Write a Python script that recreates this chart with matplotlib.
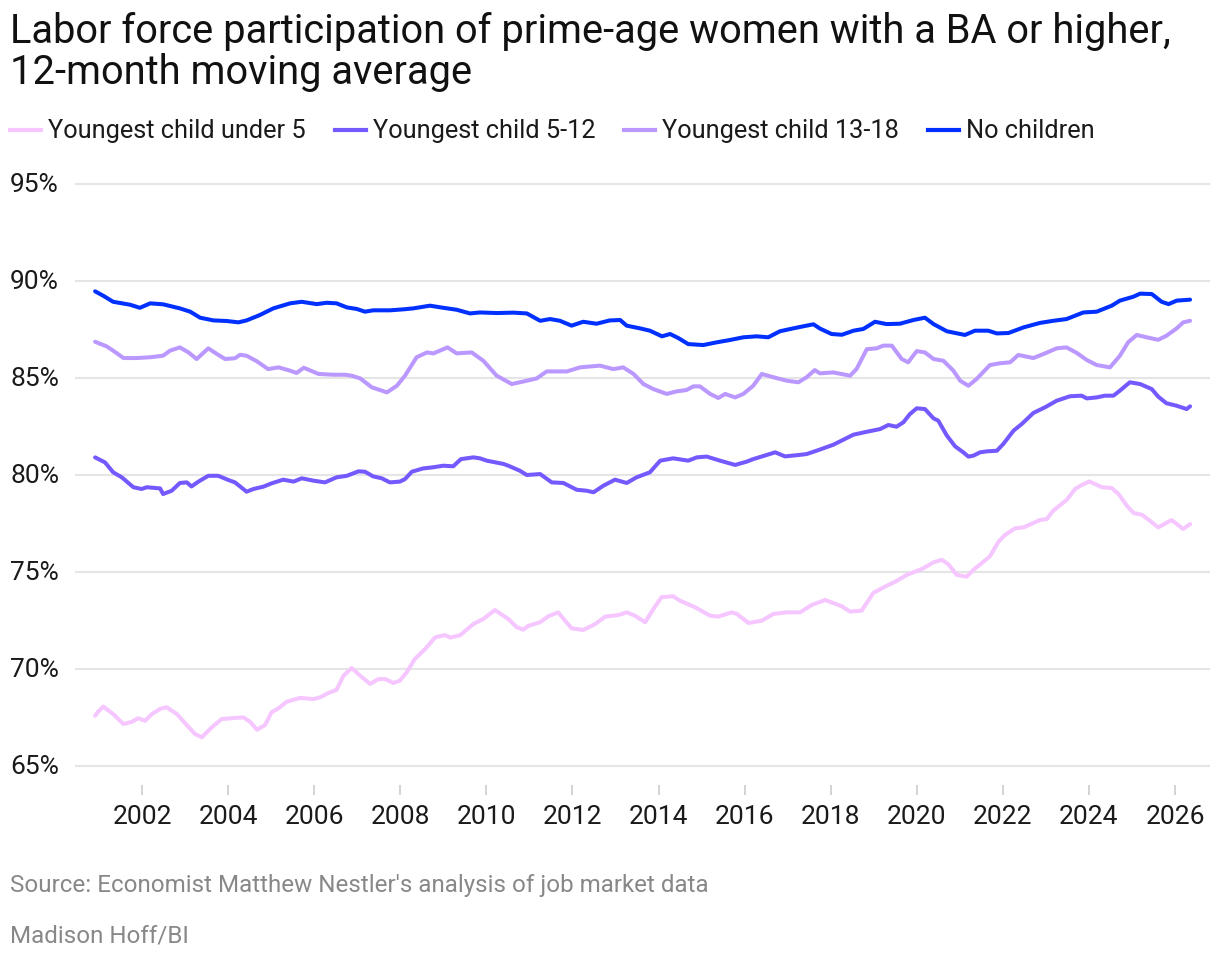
import matplotlib
matplotlib.use('Agg')
import matplotlib.pyplot as plt
from matplotlib.lines import Line2D
from matplotlib.transforms import blended_transform_factory

plt.rcParams['font.family'] = ['Roboto', 'DejaVu Sans']

# ---------------- data ----------------
series_names = ["Youngest child under 5", "Youngest child 5-12",
                "Youngest child 13-18", "No children"]

under5_x = [2000.91, 2000.98, 2001.10, 2001.33, 2001.57, 2001.76, 2001.91, 2002.07, 2002.23, 2002.42,
            2002.57, 2002.81, 2003.04, 2003.23, 2003.39, 2003.62, 2003.85, 2004.08, 2004.35, 2004.51,
            2004.67, 2004.86, 2005.01, 2005.17, 2005.36, 2005.67, 2005.98, 2006.14, 2006.33, 2006.52,
            2006.68, 2006.87, 2007.07, 2007.30, 2007.49, 2007.65, 2007.84, 2007.99, 2008.15, 2008.34,
            2008.58, 2008.81, 2009.04, 2009.16, 2009.39, 2009.70, 2009.93, 2010.20, 2010.51, 2010.71,
            2010.86, 2010.98, 2011.25, 2011.44, 2011.67, 2011.83, 2011.98, 2012.25, 2012.53, 2012.76,
            2013.07, 2013.26, 2013.45, 2013.69, 2013.88, 2014.07, 2014.34, 2014.50, 2014.85, 2015.20,
            2015.39, 2015.70, 2015.82, 2016.09, 2016.40, 2016.67, 2016.98, 2017.29, 2017.56, 2017.87,
            2018.26, 2018.45, 2018.72, 2018.99, 2019.30, 2019.50, 2019.77, 2020.15, 2020.39, 2020.58,
            2020.73, 2020.93, 2021.16, 2021.32, 2021.55, 2021.70, 2021.90, 2022.05, 2022.28, 2022.48,
            2022.71, 2022.86, 2023.02, 2023.17, 2023.48, 2023.68, 2023.83, 2024.01, 2024.30, 2024.53,
            2024.69, 2024.88, 2025.04, 2025.23, 2025.42, 2025.61, 2025.92, 2026.19, 2026.35]
under5_y = [67.59, 67.80, 68.06, 67.68, 67.16, 67.28, 67.46, 67.33, 67.68, 67.94,
            68.03, 67.68, 67.11, 66.65, 66.48, 66.99, 67.42, 67.46, 67.51, 67.28,
            66.87, 67.11, 67.77, 67.97, 68.31, 68.51, 68.45, 68.54, 68.76, 68.93,
            69.65, 70.05, 69.65, 69.23, 69.48, 69.48, 69.28, 69.40, 69.83, 70.52,
            71.03, 71.63, 71.75, 71.62, 71.74, 72.32, 72.58, 73.04, 72.58, 72.15,
            72.03, 72.23, 72.41, 72.72, 72.92, 72.49, 72.10, 72.01, 72.32, 72.70,
            72.78, 72.92, 72.75, 72.41, 73.09, 73.70, 73.75, 73.52, 73.18, 72.75,
            72.70, 72.92, 72.84, 72.37, 72.49, 72.84, 72.92, 72.92, 73.30, 73.56,
            73.23, 72.96, 73.01, 73.92, 74.29, 74.50, 74.85, 75.19, 75.50, 75.63,
            75.41, 74.85, 74.76, 75.12, 75.53, 75.81, 76.56, 76.91, 77.25, 77.30,
            77.53, 77.68, 77.73, 78.16, 78.71, 79.28, 79.48, 79.67, 79.37, 79.33,
            79.02, 78.42, 78.04, 77.95, 77.64, 77.30, 77.68, 77.22, 77.47]

age5_12_x = [2000.91, 2001.14, 2001.33, 2001.53, 2001.80, 2001.99, 2002.11, 2002.42, 2002.49, 2002.69,
             2002.88, 2003.04, 2003.15, 2003.31, 2003.54, 2003.77, 2004.01, 2004.16, 2004.43, 2004.59,
             2004.82, 2005.01, 2005.28, 2005.52, 2005.71, 2005.98, 2006.25, 2006.52, 2006.76, 2007.03,
             2007.18, 2007.37, 2007.57, 2007.76, 2007.99, 2008.11, 2008.27, 2008.53, 2008.77, 2009.00,
             2009.23, 2009.41, 2009.70, 2009.85, 2010.01, 2010.40, 2010.51, 2010.78, 2010.94, 2011.25,
             2011.52, 2011.79, 2012.10, 2012.33, 2012.49, 2012.72, 2012.99, 2013.26, 2013.49, 2013.80,
             2014.04, 2014.34, 2014.69, 2014.89, 2015.12, 2015.43, 2015.78, 2016.05, 2016.20, 2016.51,
             2016.71, 2016.94, 2017.25, 2017.44, 2017.67, 2018.06, 2018.53, 2018.84, 2019.15, 2019.34,
             2019.53, 2019.69, 2019.84, 2020.00, 2020.19, 2020.39, 2020.50, 2020.70, 2020.89, 2021.08,
             2021.20, 2021.32, 2021.47, 2021.63, 2021.86, 2022.01, 2022.25, 2022.44, 2022.71, 2022.98,
             2023.25, 2023.56, 2023.83, 2023.95, 2024.18, 2024.37, 2024.57, 2024.72, 2024.95, 2025.19,
             2025.46, 2025.61, 2025.80, 2026.04, 2026.27, 2026.35]
age5_12_y = [80.91, 80.65, 80.14, 79.88, 79.37, 79.28, 79.37, 79.31, 79.02, 79.19,
             79.59, 79.62, 79.41, 79.66, 79.96, 79.96, 79.74, 79.62, 79.14, 79.28,
             79.40, 79.57, 79.76, 79.66, 79.83, 79.71, 79.62, 79.88, 79.96, 80.19,
             80.17, 79.93, 79.83, 79.62, 79.66, 79.79, 80.17, 80.34, 80.40, 80.48,
             80.45, 80.82, 80.91, 80.86, 80.74, 80.57, 80.48, 80.22, 80.00, 80.05,
             79.62, 79.59, 79.24, 79.19, 79.11, 79.45, 79.76, 79.59, 79.88, 80.14,
             80.74, 80.86, 80.74, 80.91, 80.95, 80.74, 80.52, 80.69, 80.82, 81.03,
             81.17, 80.96, 81.03, 81.08, 81.25, 81.56, 82.08, 82.23, 82.37, 82.58,
             82.49, 82.72, 83.14, 83.44, 83.40, 82.92, 82.80, 82.03, 81.48, 81.17,
             80.95, 81.00, 81.17, 81.22, 81.25, 81.60, 82.29, 82.63, 83.20, 83.49,
             83.83, 84.06, 84.09, 83.95, 84.00, 84.09, 84.09, 84.35, 84.78, 84.69,
             84.43, 84.04, 83.70, 83.57, 83.40, 83.54]

age13_18_x = [2000.91, 2001.18, 2001.33, 2001.57, 2001.88, 2002.19, 2002.49, 2002.65, 2002.88, 2003.08,
              2003.27, 2003.54, 2003.74, 2003.93, 2004.16, 2004.28, 2004.43, 2004.67, 2004.93, 2005.17,
              2005.44, 2005.59, 2005.76, 2006.10, 2006.44, 2006.72, 2006.87, 2007.07, 2007.34, 2007.69,
              2007.92, 2008.11, 2008.38, 2008.62, 2008.77, 2009.10, 2009.31, 2009.66, 2009.93, 2010.24,
              2010.59, 2010.94, 2011.17, 2011.40, 2011.87, 2012.18, 2012.64, 2012.95, 2013.18, 2013.42,
              2013.65, 2013.88, 2014.19, 2014.42, 2014.65, 2014.81, 2014.96, 2015.20, 2015.39, 2015.55,
              2015.78, 2015.97, 2016.20, 2016.40, 2016.67, 2016.98, 2017.25, 2017.44, 2017.63, 2017.75,
              2018.06, 2018.45, 2018.60, 2018.84, 2019.07, 2019.22, 2019.42, 2019.65, 2019.80, 2020.00,
              2020.19, 2020.39, 2020.62, 2020.85, 2021.01, 2021.20, 2021.39, 2021.70, 2021.93, 2022.17,
              2022.36, 2022.71, 2022.98, 2023.25, 2023.48, 2023.72, 2023.95, 2024.18, 2024.49, 2024.72,
              2024.91, 2025.11, 2025.34, 2025.61, 2025.80, 2026.04, 2026.19, 2026.35]
age13_18_y = [86.87, 86.63, 86.41, 86.03, 86.03, 86.07, 86.15, 86.41, 86.58, 86.32,
              85.98, 86.53, 86.24, 85.98, 86.02, 86.20, 86.15, 85.86, 85.46, 85.55,
              85.38, 85.26, 85.53, 85.21, 85.17, 85.17, 85.12, 84.98, 84.52, 84.26,
              84.60, 85.12, 86.07, 86.32, 86.27, 86.58, 86.27, 86.32, 85.89, 85.12,
              84.69, 84.86, 84.98, 85.34, 85.34, 85.55, 85.64, 85.46, 85.55, 85.21,
              84.69, 84.43, 84.18, 84.31, 84.38, 84.57, 84.57, 84.18, 83.97, 84.18,
              84.00, 84.18, 84.60, 85.21, 85.04, 84.86, 84.78, 85.04, 85.41, 85.24,
              85.29, 85.12, 85.46, 86.49, 86.53, 86.67, 86.67, 85.98, 85.81, 86.39,
              86.32, 85.98, 85.89, 85.38, 84.86, 84.60, 84.95, 85.67, 85.76, 85.81,
              86.19, 86.03, 86.27, 86.53, 86.58, 86.29, 85.93, 85.67, 85.55, 86.15,
              86.84, 87.22, 87.10, 86.97, 87.18, 87.56, 87.87, 87.95]

nochild_x = [2000.91, 2001.10, 2001.33, 2001.72, 2001.95, 2002.19, 2002.49, 2002.88, 2003.12, 2003.35,
             2003.66, 2003.97, 2004.24, 2004.43, 2004.74, 2005.05, 2005.44, 2005.71, 2006.06, 2006.29,
             2006.52, 2006.76, 2006.99, 2007.18, 2007.37, 2007.76, 2008.07, 2008.30, 2008.69, 2009.00,
             2009.31, 2009.62, 2009.85, 2010.24, 2010.63, 2010.94, 2011.25, 2011.48, 2011.71, 2011.98,
             2012.25, 2012.56, 2012.87, 2013.11, 2013.26, 2013.57, 2013.80, 2014.08, 2014.27, 2014.46,
             2014.69, 2015.04, 2015.35, 2015.66, 2015.97, 2016.28, 2016.55, 2016.82, 2017.13, 2017.44,
             2017.60, 2017.75, 2018.02, 2018.26, 2018.53, 2018.76, 2019.03, 2019.30, 2019.61, 2019.92,
             2020.19, 2020.39, 2020.70, 2021.12, 2021.35, 2021.66, 2021.86, 2022.13, 2022.48, 2022.86,
             2023.17, 2023.48, 2023.87, 2024.18, 2024.53, 2024.72, 2025.03, 2025.19, 2025.46, 2025.69,
             2025.85, 2026.04, 2026.35]
nochild_y = [89.47, 89.24, 88.93, 88.78, 88.62, 88.85, 88.80, 88.59, 88.42, 88.11,
             87.97, 87.94, 87.87, 87.97, 88.25, 88.59, 88.85, 88.93, 88.81, 88.88,
             88.85, 88.64, 88.56, 88.42, 88.49, 88.49, 88.54, 88.59, 88.73, 88.62,
             88.52, 88.33, 88.38, 88.35, 88.37, 88.33, 87.95, 88.04, 87.95, 87.70,
             87.90, 87.80, 87.97, 87.99, 87.70, 87.56, 87.44, 87.15, 87.27, 87.06,
             86.75, 86.70, 86.84, 86.96, 87.10, 87.15, 87.10, 87.41, 87.56, 87.70,
             87.77, 87.55, 87.27, 87.23, 87.44, 87.53, 87.90, 87.78, 87.80, 87.99,
             88.11, 87.78, 87.41, 87.22, 87.44, 87.44, 87.30, 87.32, 87.61, 87.84,
             87.95, 88.04, 88.38, 88.42, 88.73, 88.99, 89.19, 89.35, 89.33, 88.93,
             88.81, 88.99, 89.04]

y_ticks = [65, 70, 75, 80, 85, 90, 95]
y_tick_labels = ["65%", "70%", "75%", "80%", "85%", "90%", "95%"]
x_ticks = [2002, 2004, 2006, 2008, 2010, 2012, 2014, 2016, 2018, 2020, 2022, 2024, 2026]
x_tick_labels = [str(v) for v in x_ticks]

title = "Labor force participation of prime-age women with a BA or higher,\n12-month moving average"
source = "Source: Economist Matthew Nestler's analysis of job market data"
credit = "Madison Hoff/BI"

colors = ["#F5C6FF", "#7559FF", "#BB98FF", "#0030FF"]

# ---------------- figure ----------------
W, H = 1220, 962
fig = plt.figure(figsize=(W / 100, H / 100), dpi=100)


def fx(px):
    return px / W


def fy(py):
    return 1 - py / H


ax = fig.add_axes([fx(75), fy(786), fx(1210) - fx(75), fy(180) - fy(786)])
ax.set_xlim(2000.443, 2026.813)
ax.set_ylim(64.02, 95.26)

for v in y_ticks:
    ax.axhline(v, color="#e5e5e5", lw=1.5, zorder=0)

data = [(under5_x, under5_y), (age5_12_x, age5_12_y),
        (age13_18_x, age13_18_y), (nochild_x, nochild_y)]
for (xs, ys), c in zip(data, colors):
    ax.plot(xs, ys, color=c, lw=2.9, solid_joinstyle="round",
            solid_capstyle="round", zorder=3)

for s in ax.spines.values():
    s.set_visible(False)

ax.set_xticks(x_ticks)
ax.set_xticklabels(x_tick_labels)
ax.tick_params(axis="x", length=7, width=1.2, color="#cccccc", pad=7,
               labelsize=19, labelcolor="#1a1a1a")
ax.set_yticks([])

tr = blended_transform_factory(fig.transFigure, ax.transData)
for v, lab in zip(y_ticks, y_tick_labels):
    ax.text(fx(10), v, lab, transform=tr, ha="left", va="center",
            fontsize=19, color="#1a1a1a")

# title
fig.text(fx(10), fy(12), title, ha="left", va="top", fontsize=28.7,
         color="#111111", linespacing=1.05)

# legend (manual)
renderer = fig.canvas.get_renderer()
lx = 10
ly = 131
for name, c in zip(series_names, colors):
    fig.add_artist(Line2D([fx(lx), fx(lx + 31)], [fy(ly), fy(ly)], color=c,
                          lw=3, transform=fig.transFigure))
    t = fig.text(fx(lx + 38), fy(ly), name, ha="left", va="center",
                 fontsize=18.3, color="#1a1a1a")
    bb = t.get_window_extent(renderer)
    lx = bb.x1 + 29

fig.text(fx(10), fy(886), source, ha="left", va="center", fontsize=17.4,
         color="#888888")
fig.text(fx(10), fy(936), credit, ha="left", va="center", fontsize=17.4,
         color="#888888")

fig.savefig("out.png", dpi=100)
